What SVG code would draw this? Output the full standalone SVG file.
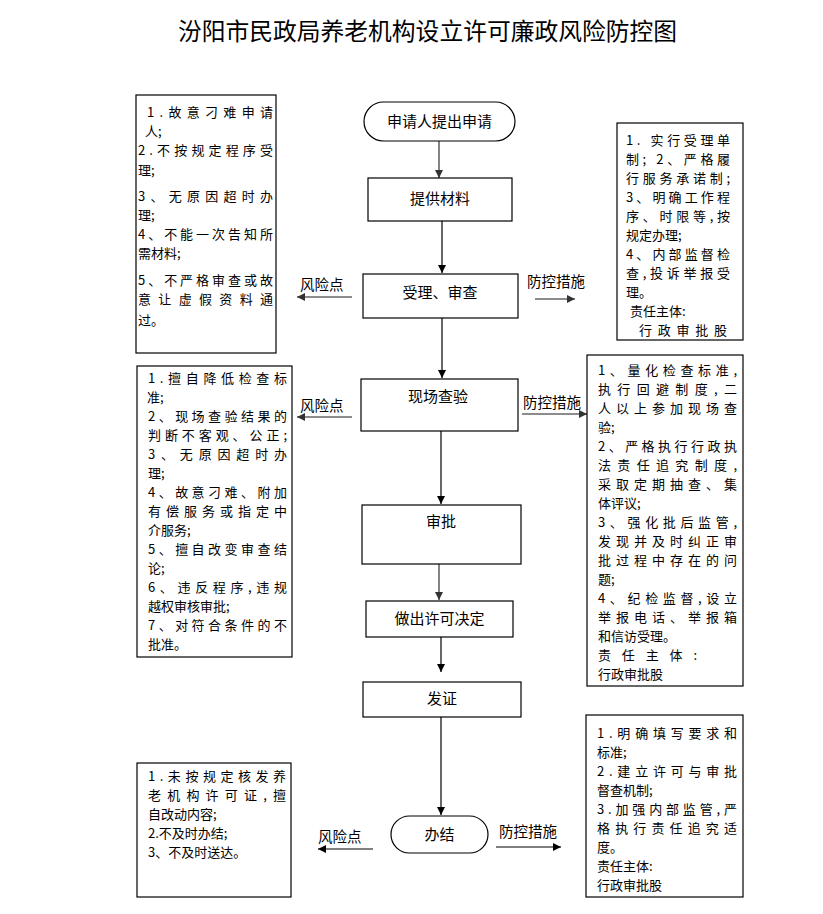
<svg xmlns="http://www.w3.org/2000/svg" width="823" height="914" viewBox="0 0 823 914">
<style>
text{font-family:"Noto Sans CJK SC","Noto Sans",sans-serif;fill:#000}
.t{font-size:24px}
.n{font-size:15px}
.b{font-size:13px}
.l{font-size:14.5px}
.box{fill:#fff;stroke:#000;stroke-width:1.2}
.c{stroke:#000;stroke-width:1.2;fill:none}
.g{stroke:#666;stroke-width:1.6;fill:none}
</style>
<defs>
<marker id="a" viewBox="0 0 10 10" refX="10" refY="5" markerWidth="8" markerHeight="8" markerUnits="userSpaceOnUse" orient="auto"><path d="M0,0L10,5L0,10z" fill="#000"/></marker>
<marker id="ag" viewBox="0 0 10 10" refX="10" refY="5" markerWidth="8" markerHeight="8" markerUnits="userSpaceOnUse" orient="auto"><path d="M0,0L10,5L0,10z" fill="#333"/></marker>
</defs>
<rect width="823" height="914" fill="#fff"/>
<text class="t" x="178" y="40" textLength="499" lengthAdjust="spacingAndGlyphs">汾阳市民政局养老机构设立许可廉政风险防控图</text>

<g id="connectors">
<line class="g" x1="439" y1="141" x2="439" y2="178" marker-end="url(#ag)"/>
<line class="c" x1="442" y1="221" x2="442" y2="273" marker-end="url(#a)"/>
<line class="c" x1="442" y1="318" x2="442" y2="378" marker-end="url(#a)"/>
<line class="c" x1="441" y1="431" x2="441" y2="504" marker-end="url(#a)"/>
<line class="g" x1="439" y1="564" x2="439" y2="600" marker-end="url(#ag)"/>
<line class="c" x1="441" y1="637" x2="441" y2="672" marker-end="url(#a)"/>
<line class="c" x1="441" y1="717" x2="441" y2="815" marker-end="url(#a)"/>
<line class="g" x1="352" y1="297" x2="297" y2="297" marker-end="url(#ag)"/>
<line class="g" x1="535" y1="299" x2="575" y2="299" marker-end="url(#ag)"/>
<line class="g" x1="352" y1="417" x2="297" y2="417" marker-end="url(#ag)"/>
<line class="g" x1="522" y1="414" x2="587" y2="414" marker-end="url(#ag)"/>
<line class="c" x1="373" y1="849" x2="318" y2="849" marker-end="url(#a)"/>
<line class="c" x1="496" y1="847" x2="561" y2="847" marker-end="url(#a)"/>
<text class="l" x="300" y="290">风险点</text>
<text class="l" x="527" y="287">防控措施</text>
<text class="l" x="300" y="411">风险点</text>
<text class="l" x="523" y="408">防控措施</text>
<text class="l" x="318" y="842">风险点</text>
<text class="l" x="499" y="837">防控措施</text>
</g>

<g id="n1"><rect class="box" x="364" y="102" width="151" height="39" rx="19.5"/><text class="n" x="439.5" y="127" text-anchor="middle">申请人提出申请</text></g>
<g id="n2"><rect class="box" x="368" y="178" width="144" height="43"/><text class="n" x="440" y="204" text-anchor="middle">提供材料</text></g>
<g id="n3"><rect class="box" x="363" y="274" width="155" height="44"/><text class="n" x="440" y="298" text-anchor="middle">受理、审查</text></g>
<g id="n4"><rect class="box" x="361" y="379" width="157" height="52"/><text class="n" x="438" y="402" text-anchor="middle">现场查验</text></g>
<g id="n5"><rect class="box" x="362" y="505" width="159" height="59"/><text class="n" x="441" y="527" text-anchor="middle">审批</text></g>
<g id="n6"><rect class="box" x="366" y="601" width="147" height="36"/><text class="n" x="439.5" y="624" text-anchor="middle">做出许可决定</text></g>
<g id="n7"><rect class="box" x="363" y="682" width="158" height="35"/><text class="n" x="442" y="704" text-anchor="middle">发证</text></g>
<g id="n8"><rect class="box" x="391" y="816" width="97" height="37" rx="18.5"/><text class="n" x="439.5" y="840" text-anchor="middle">办结</text></g>

<g id="risk1"><rect class="box" x="136" y="95" width="140" height="258"/>
<text class="b" x="147" y="117" textLength="126" lengthAdjust="spacing">1.故意刁难申请</text>
<text class="b" x="145" y="136">人;</text>
<text class="b" x="138" y="155" textLength="135" lengthAdjust="spacing">2.不按规定程序受</text>
<text class="b" x="138" y="175">理;</text>
<text class="b" x="138" y="201" textLength="135" lengthAdjust="spacing">3、无原因超时办</text>
<text class="b" x="138" y="220">理;</text>
<text class="b" x="138" y="239" textLength="135" lengthAdjust="spacing">4、不能一次告知所</text>
<text class="b" x="138" y="258">需材料;</text>
<text class="b" x="138" y="285" textLength="135" lengthAdjust="spacing">5、不严格审查或故</text>
<text class="b" x="138" y="304" textLength="135" lengthAdjust="spacing">意让虚假资料通</text>
<text class="b" x="138" y="325">过。</text>
</g>

<g id="ctrl1"><rect class="box" x="617" y="123" width="126" height="217"/>
<text class="b" x="626" y="145" textLength="104" lengthAdjust="spacing">1. 实行受理单</text>
<text class="b" x="626" y="164" textLength="104" lengthAdjust="spacing">制; 2、严格履</text>
<text class="b" x="626" y="183" textLength="104" lengthAdjust="spacing">行服务承诺制;</text>
<text class="b" x="626" y="202" textLength="104" lengthAdjust="spacing">3、明确工作程</text>
<text class="b" x="626" y="221" textLength="104" lengthAdjust="spacing">序、时限等,按</text>
<text class="b" x="626" y="240">规定办理;</text>
<text class="b" x="626" y="259" textLength="104" lengthAdjust="spacing">4、内部监督检</text>
<text class="b" x="626" y="278" textLength="104" lengthAdjust="spacing">查,投诉举报受</text>
<text class="b" x="626" y="297">理。</text>
<text class="b" x="630" y="316">责任主体:</text>
<text class="b" x="639" y="335" textLength="88" lengthAdjust="spacing">行政审批股</text>
</g>

<g id="risk2"><rect class="box" x="137" y="366" width="155" height="291"/>
<text class="b" x="148" y="383" textLength="139" lengthAdjust="spacing">1.擅自降低检查标</text>
<text class="b" x="147" y="402">准;</text>
<text class="b" x="148" y="421" textLength="139" lengthAdjust="spacing">2、现场查验结果的</text>
<text class="b" x="148" y="440" textLength="139" lengthAdjust="spacing">判断不客观、公正;</text>
<text class="b" x="148" y="459" textLength="139" lengthAdjust="spacing">3、无原因超时办</text>
<text class="b" x="148" y="478">理;</text>
<text class="b" x="148" y="497" textLength="139" lengthAdjust="spacing">4、故意刁难、附加</text>
<text class="b" x="148" y="516" textLength="139" lengthAdjust="spacing">有偿服务或指定中</text>
<text class="b" x="148" y="535">介服务;</text>
<text class="b" x="148" y="554" textLength="139" lengthAdjust="spacing">5、擅自改变审查结</text>
<text class="b" x="148" y="573">论;</text>
<text class="b" x="148" y="592" textLength="139" lengthAdjust="spacing">6、违反程序,违规</text>
<text class="b" x="148" y="611">越权审核审批;</text>
<text class="b" x="148" y="630" textLength="139" lengthAdjust="spacing">7、对符合条件的不</text>
<text class="b" x="148" y="649">批准。</text>
</g>

<g id="ctrl2"><rect class="box" x="587" y="355" width="156" height="331"/>
<text class="b" x="598" y="375" textLength="139" lengthAdjust="spacing">1、量化检查标准,</text>
<text class="b" x="598" y="394" textLength="139" lengthAdjust="spacing">执行回避制度,二</text>
<text class="b" x="598" y="413" textLength="139" lengthAdjust="spacing">人以上参加现场查</text>
<text class="b" x="598" y="432">验;</text>
<text class="b" x="598" y="451" textLength="139" lengthAdjust="spacing">2、严格执行行政执</text>
<text class="b" x="598" y="470" textLength="139" lengthAdjust="spacing">法责任追究制度,</text>
<text class="b" x="598" y="489" textLength="139" lengthAdjust="spacing">采取定期抽查、集</text>
<text class="b" x="598" y="508">体评议;</text>
<text class="b" x="598" y="527" textLength="139" lengthAdjust="spacing">3、强化批后监管,</text>
<text class="b" x="598" y="546" textLength="139" lengthAdjust="spacing">发现并及时纠正审</text>
<text class="b" x="598" y="565" textLength="139" lengthAdjust="spacing">批过程中存在的问</text>
<text class="b" x="598" y="584">题;</text>
<text class="b" x="598" y="603" textLength="139" lengthAdjust="spacing">4、纪检监督,设立</text>
<text class="b" x="598" y="622" textLength="139" lengthAdjust="spacing">举报电话、举报箱</text>
<text class="b" x="598" y="641">和信访受理。</text>
<text class="b" x="598" y="660" textLength="99" lengthAdjust="spacing">责任主体:</text>
<text class="b" x="598" y="679">行政审批股</text>
</g>

<g id="risk3"><rect class="box" x="137" y="763" width="154" height="134"/>
<text class="b" x="148" y="781" textLength="138" lengthAdjust="spacing">1.未按规定核发养</text>
<text class="b" x="148" y="800" textLength="138" lengthAdjust="spacing">老机构许可证,擅</text>
<text class="b" x="148" y="819">自改动内容;</text>
<text class="b" x="148" y="838">2.不及时办结;</text>
<text class="b" x="148" y="857">3、不及时送达。</text>
</g>

<g id="ctrl3"><rect class="box" x="586" y="715" width="157" height="182"/>
<text class="b" x="597" y="738" textLength="140" lengthAdjust="spacing">1.明确填写要求和</text>
<text class="b" x="597" y="757">标准;</text>
<text class="b" x="597" y="776" textLength="140" lengthAdjust="spacing">2.建立许可与审批</text>
<text class="b" x="597" y="795">督查机制;</text>
<text class="b" x="597" y="814" textLength="140" lengthAdjust="spacing">3.加强内部监管,严</text>
<text class="b" x="597" y="833" textLength="140" lengthAdjust="spacing">格执行责任追究适</text>
<text class="b" x="597" y="852">度。</text>
<text class="b" x="597" y="871">责任主体:</text>
<text class="b" x="597" y="890">行政审批股</text>
</g>
</svg>
